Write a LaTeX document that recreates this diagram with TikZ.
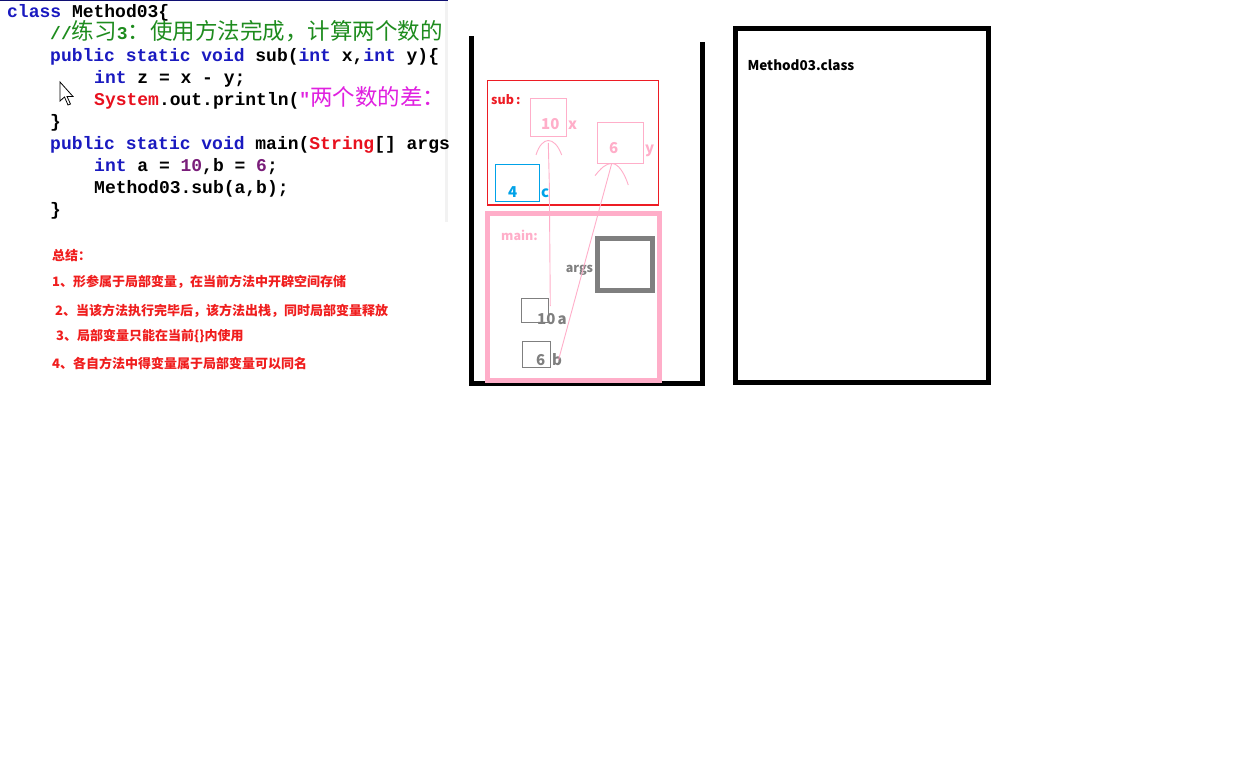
\documentclass[tikz,border=0pt]{standalone}
\usepackage{fontspec}
\setmainfont{Noto Sans CJK SC}
\newfontfamily\cjk{Noto Sans CJK SC}
\newfontfamily\mono{Liberation Mono}
\definecolor{kw}{HTML}{1A1AC0}
\definecolor{cm}{HTML}{1E8C1E}
\definecolor{jred}{HTML}{E8101E}
\definecolor{strc}{HTML}{E020E0}
\definecolor{numc}{HTML}{7A1E7A}
\definecolor{sumred}{HTML}{F01E1E}
\definecolor{pred}{HTML}{ED1C24}
\definecolor{pink}{HTML}{FFAEC9}
\definecolor{pblue}{HTML}{00A2E8}
\definecolor{pgray}{HTML}{7F7F7F}
\newcommand\zhc[1]{{\cjk\mdseries\fontsize{22.5}{22.5}\selectfont #1}}
\begin{document}
\begin{tikzpicture}[x=1pt,y=-1pt,
  code/.style={anchor=base west, inner sep=0pt, font=\mono\bfseries\fontsize{18}{18}\selectfont},
  sumtxt/.style={anchor=base west, inner sep=0pt, text=sumred, font=\cjk\bfseries\fontsize{13}{13}\selectfont},
  lab/.style={anchor=base west, inner sep=0pt, font=\cjk\bfseries\fontsize{12.5}{12.5}\selectfont},
  num/.style={anchor=base west, inner sep=0pt, font=\cjk\bfseries\fontsize{15}{15}\selectfont},
  stackline/.style={line width=4.5pt, line cap=butt, line join=miter},
  thinbox/.style={line width=1pt},
  pinkline/.style={pink, line width=0.9pt}
]
\useasboundingbox (0,0) rectangle (1251,779);
\fill[white] (0,0) rectangle (1251,779);

% ---- code screenshot ----
\begin{scope}
\clip (0,0) rectangle (448,222);
\fill[gray!10] (445,0) rectangle (448,222);
\draw[kw!60!black, line width=1.2pt] (0,0.6) -- (448,0.6);
\node[code] (l1) at (7,17) {\textcolor{kw}{class} Method03\{};
\node[code] (l2) at (50,39) {\textcolor{cm}{//\zhc{练习}3\zhc{：使用方法完成，计算两个数的}}};
\node[code] (l3) at (50,61) {\textcolor{kw}{public static void} sub(\textcolor{kw}{int} x,\textcolor{kw}{int} y)\{};
\node[code] (l4) at (94,83) {\textcolor{kw}{int} z = x - y;};
\node[code] (l5) at (94,105) {\textcolor{jred}{System}.out.println(\textcolor{strc}{"\zhc{两个数的差：}}};
\node[code] (l6) at (50,127) {\}};
\node[code] (l7) at (50,149) {\textcolor{kw}{public static void} main(\textcolor{jred}{String}[] args)\{};
\node[code] (l8) at (94,171) {\textcolor{kw}{int} a = \textcolor{numc}{10},b = \textcolor{numc}{6};};
\node[code] (l9) at (94,193) {Method03.sub(a,b);};
\node[code] (l10) at (50,215) {\}};
\filldraw[fill=white, draw=black, line width=0.8pt, line join=miter]
  (60,82) -- (60,101) -- (64.5,97) -- (68,105) -- (70.5,104) -- (67,96.5) -- (73,96.5) -- cycle;
\end{scope}

% ---- summary ----
\node[sumtxt] (s0) at (52,260) {总结：};
\node[sumtxt] (s1) at (52,286) {1、形参属于局部变量，在当前方法中开辟空间存储};
\node[sumtxt] (s2) at (55,315) {2、当该方法执行完毕后，该方法出栈，同时局部变量释放};
\node[sumtxt] (s3) at (56,340) {3、局部变量只能在当前\{\}内使用};
\node[sumtxt] (s4) at (52,368) {4、各自方法中得变量属于局部变量可以同名};

% ---- stack ----
\draw[stackline] (471.5,36) -- (471.5,383.5) -- (702.5,383.5) -- (702.5,42);

% sub frame
\draw[pred, line width=1.3pt] (487.5,80.5) rectangle (658.5,205);
\node[lab, text=pred] (sublab) at (491,104) {sub\,:};
\draw[pink, thinbox] (530.5,98.5) rectangle (566.5,136.5);
\node[num, text=pink] (xv) at (541,129.3) {10};
\node[num, text=pink] (xl) at (568,129.3) {x};
\draw[pink, thinbox] (597.5,122.5) rectangle (643.5,163.5);
\node[num, text=pink] (yv) at (609,153.3) {6};
\node[num, text=pink] (yl) at (645,153.3) {y};
\draw[pblue, line width=1.3pt] (495.5,164.5) rectangle (539.5,201.5);
\node[num, text=pblue] (cv) at (508,197.3) {4};
\node[num, text=pblue] (cl) at (541,197.3) {c};
\coordinate (xpeak) at (548.3,140.5);
\coordinate (ypeak) at (611.7,163.5);
\draw[pinkline] (536,155) .. controls (539,145) and (544,140.5) .. (xpeak) .. controls (553,140.5) and (558,145) .. (561.7,155);
\draw[pinkline] (595,175.7) .. controls (601,168) and (606,163.5) .. (ypeak) .. controls (618,163.5) and (624,172) .. (628.3,185);

% main frame
\draw[pink, line width=4.7pt] (487.5,213.5) rectangle (659.5,380.5);
\node[lab, text=pink] (mainlab) at (501,240.7) {main:};
\draw[pgray, line width=5pt] (597.5,238.5) rectangle (652.5,290.5);
\node[lab, text=pgray, anchor=base east] (argslab) at (593.3,272.7) {args};
\draw[pgray, thinbox] (521.5,298.5) rectangle (548.5,322.5);
\node[num, text=pgray] (av) at (537,324) {10};
\node[num, text=pgray] (al) at (557.5,324) {a};
\draw[pgray, thinbox] (522.5,341.5) rectangle (550.5,367.5);
\node[num, text=pgray] (bv) at (536,365.3) {6};
\node[num, text=pgray] (bl) at (552,365.3) {b};
\coordinate (aend) at (550.3,306);
\coordinate (bend) at (558.5,360);
\draw[pinkline] (aend) -- (549.3,183) -- (548.3,143);
\draw[pinkline] (bend) -- (ypeak);

% method area
\draw[line width=4.7pt] (735.7,28.3) rectangle (988.3,382.7);
\node[anchor=base west, inner sep=0pt, font=\cjk\bfseries\fontsize{13.5}{13.5}\selectfont] (cls) at (747.3,70.5) {Method03.class};
\end{tikzpicture}
\end{document}
